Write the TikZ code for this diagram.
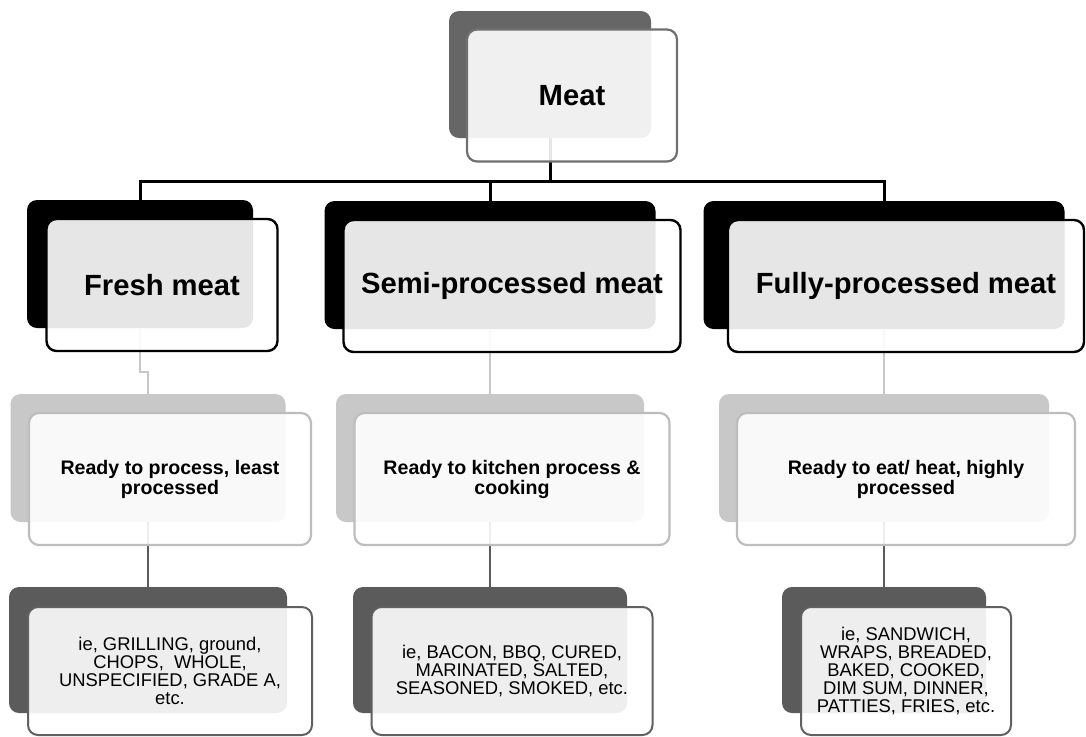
\documentclass[tikz,border=0pt]{standalone}
\usepackage{fontspec}
\setmainfont{Liberation Sans}
\usetikzlibrary{positioning,calc}
\definecolor{ink}{HTML}{000000}
\definecolor{rootback}{HTML}{666666}
\definecolor{rootedge}{HTML}{707070}
\definecolor{readyback}{HTML}{C8C8C8}
\definecolor{readyedge}{HTML}{BDBDBD}
\definecolor{sampleback}{HTML}{5B5B5B}
\definecolor{sampleedge}{HTML}{606060}

\begin{document}
\begin{tikzpicture}[x=0.5pt,y=-0.5pt,
    backbox/.style={rounded corners=5pt,inner sep=0pt,outer sep=0pt},
    frontbox/.style={draw,line width=1.1pt,rounded corners=5pt,fill=white,
      fill opacity=0.9,text opacity=1,align=center,inner sep=0pt,outer sep=0pt},
    rootfont/.style={font=\fontsize{14.6}{17}\selectfont\bfseries},
    readyfont/.style={font=\fontsize{9.8}{10}\selectfont\bfseries},
    samplefont/.style={font=\fontsize{9.2}{9.1}\selectfont},
    bus/.style={draw=ink,line width=1.5pt},
    readylink/.style={draw=readyback,line width=1.2pt},
    samplelink/.style={draw=sampleback,line width=1.3pt}]
  \path[fill=white,use as bounding box] (0,0) rectangle (1086,736);

  % back plates
  \node[backbox,fill=rootback,minimum width=101pt,minimum height=63.5pt] (meatB) at (550,74.5) {};
  \node[backbox,fill=ink,minimum width=113pt,minimum height=64pt] (freshB) at (140,264) {};
  \node[backbox,fill=ink,minimum width=165.5pt,minimum height=64pt] (semiB) at (490,265) {};
  \node[backbox,fill=ink,minimum width=180.5pt,minimum height=64pt] (fullyB) at (884,265) {};
  \node[backbox,fill=readyback,minimum width=137.5pt,minimum height=64pt] (freshRB) at (148,458) {};
  \node[backbox,fill=readyback,minimum width=154pt,minimum height=64pt] (semiRB) at (490,458) {};
  \node[backbox,fill=readyback,minimum width=165pt,minimum height=64pt] (fullyRB) at (884,458) {};
  \node[backbox,fill=sampleback,minimum width=139pt,minimum height=63pt] (freshEB) at (148,650) {};
  \node[backbox,fill=sampleback,minimum width=137pt,minimum height=63pt] (semiEB) at (490,650) {};
  \node[backbox,fill=sampleback,minimum width=102pt,minimum height=63pt] (fullyEB) at (884,650) {};

  % connectors
  \coordinate (hub) at (550,181);
  \draw[bus] (meatB.south) -- (hub);
  \draw[bus] (freshB.north) |- (hub) -| (fullyB.north);
  \draw[bus] (hub) -| (semiB.north);
  \draw[readylink] (freshB.south) -- ++(0,44) -| (freshRB.north);
  \draw[readylink] (semiB.south) -- (semiRB.north);
  \draw[readylink] (fullyB.south) -- (fullyRB.north);
  \draw[samplelink] (freshRB.south) -- (freshEB.north);
  \draw[samplelink] (semiRB.south) -- (semiEB.north);
  \draw[samplelink] (fullyRB.south) -- (fullyEB.north);

  % front cards
  \node[frontbox,rootfont,draw=rootedge,minimum width=105pt,minimum height=66pt] (meat)
    at ([shift={(22,21)}]meatB.center) {Meat};
  \node[frontbox,rootfont,draw=ink,line width=1.2pt,minimum width=115.5pt,minimum height=66pt] (fresh)
    at ([shift={(22,21)}]freshB.center) {Fresh meat};
  \node[frontbox,rootfont,draw=ink,line width=1.2pt,minimum width=168.5pt,minimum height=66pt] (semi)
    at ([shift={(22,21)}]semiB.center) {Semi-processed meat};
  \node[frontbox,rootfont,draw=ink,line width=1.2pt,minimum width=178pt,minimum height=66pt] (fully)
    at ([shift={(22,21)}]fullyB.center) {Fully-processed meat};
  \node[frontbox,readyfont,draw=readyedge,minimum width=141pt,minimum height=66pt] (freshR)
    at ([shift={(22,21)}]freshRB.center) {Ready to process, least\\processed};
  \node[frontbox,readyfont,draw=readyedge,minimum width=157.5pt,minimum height=66pt] (semiR)
    at ([shift={(22,21)}]semiRB.center) {Ready to kitchen process \&\\cooking};
  \node[frontbox,readyfont,draw=readyedge,minimum width=169pt,minimum height=66pt] (fullyR)
    at ([shift={(22,21)}]fullyRB.center) {Ready to eat/ heat, highly\\processed};
  \node[frontbox,samplefont,draw=sampleedge,line width=1pt,minimum width=142pt,minimum height=64pt] (freshE)
    at ([shift={(22,21)}]freshEB.center) {ie, GRILLING, ground,\\CHOPS,\ \ WHOLE,\\UNSPECIFIED, GRADE A,\\etc.};
  \node[frontbox,samplefont,draw=sampleedge,line width=1pt,minimum width=140.5pt,minimum height=64pt] (semiE)
    at ([shift={(22,21)}]semiEB.center) {ie, BACON, BBQ, CURED,\\MARINATED, SALTED,\\SEASONED, SMOKED, etc.};
  \node[frontbox,samplefont,draw=sampleedge,line width=1pt,minimum width=105pt,minimum height=64pt] (fullyE)
    at ([shift={(22,21)}]fullyEB.center) {ie, SANDWICH,\\WRAPS, BREADED,\\BAKED, COOKED,\\DIM SUM, DINNER,\\PATTIES, FRIES, etc.};
\end{tikzpicture}
\end{document}
